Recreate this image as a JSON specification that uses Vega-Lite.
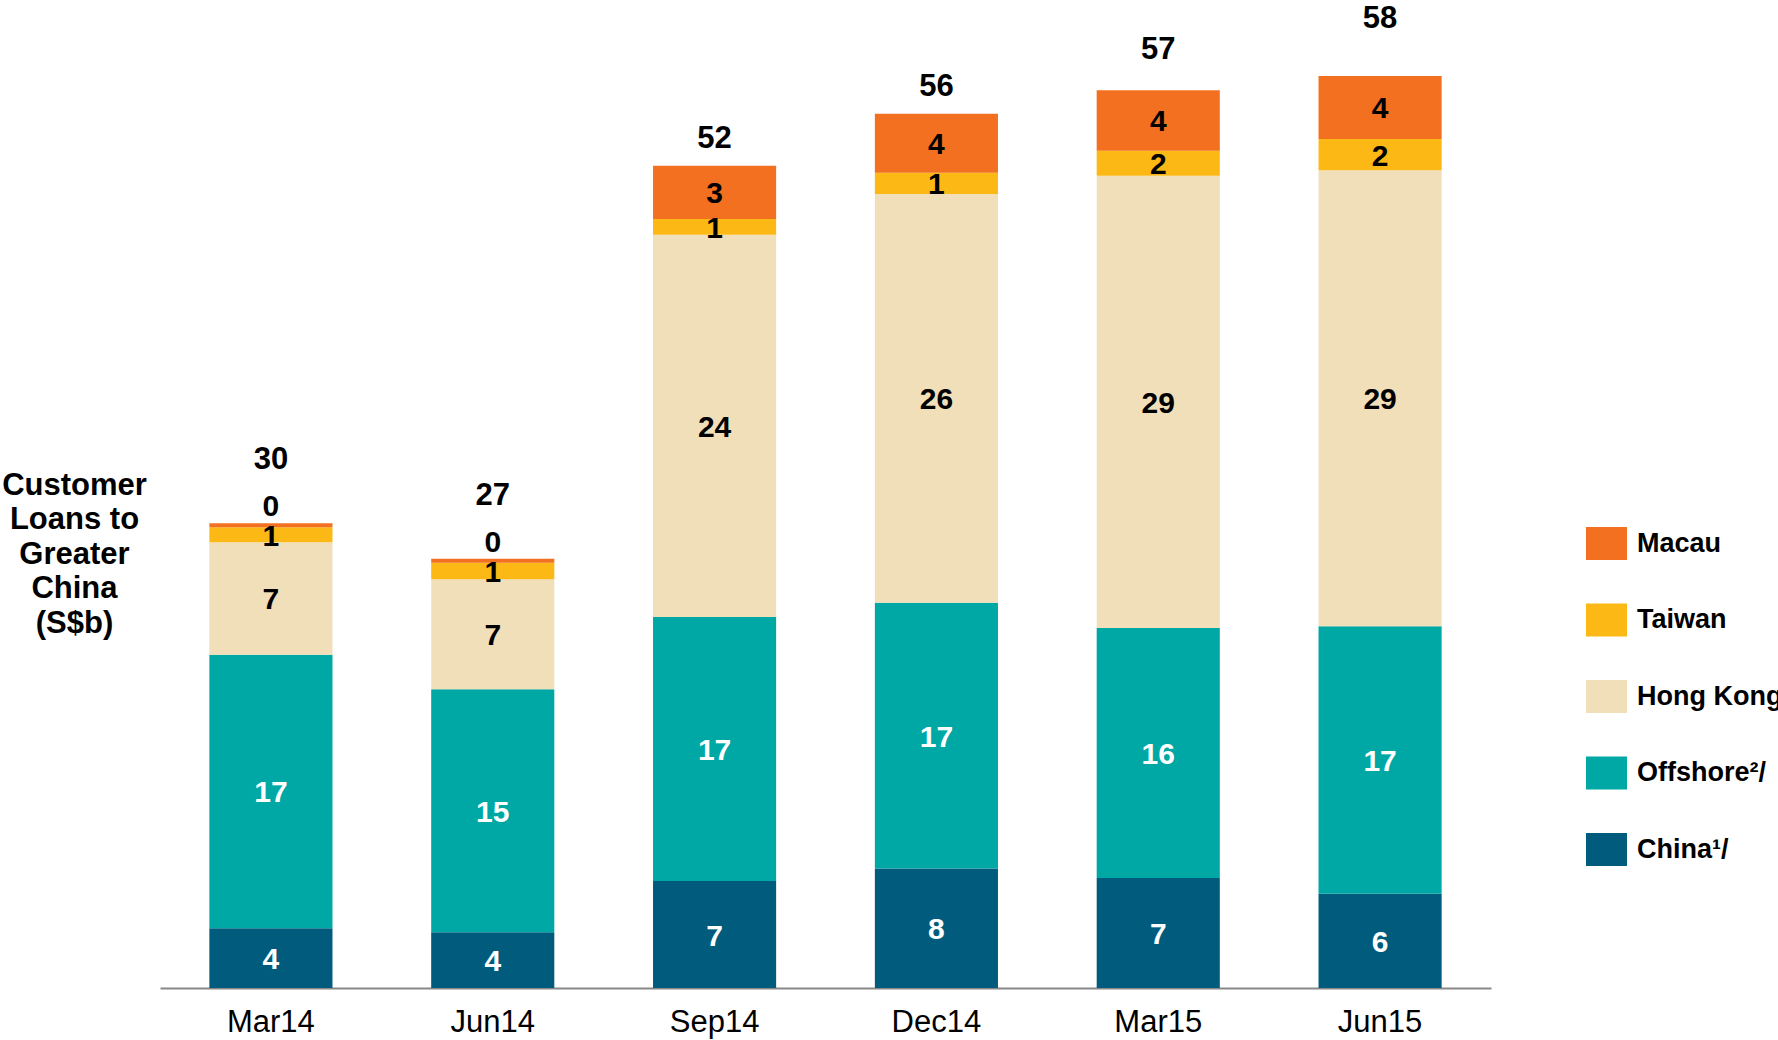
{
  "$schema": "https://vega.github.io/schema/vega-lite/v6.json",
  "width": 1331,
  "height": 912,
  "autosize": {"type": "none"},
  "padding": {"left": 160, "top": 76, "right": 287, "bottom": 52},
  "background": "white",
  "config": {"view": {"stroke": null}, "font": "Liberation Sans"},
  "data": {
    "values": [
      {"quarter": "Mar14", "series": "China¹/", "value": 3.8},
      {"quarter": "Mar14", "series": "Offshore²/", "value": 17.4},
      {"quarter": "Mar14", "series": "Hong Kong", "value": 7.15},
      {"quarter": "Mar14", "series": "Taiwan", "value": 0.95},
      {"quarter": "Mar14", "series": "Macau", "value": 0.25},
      {"quarter": "Jun14", "series": "China¹/", "value": 3.55},
      {"quarter": "Jun14", "series": "Offshore²/", "value": 15.45},
      {"quarter": "Jun14", "series": "Hong Kong", "value": 7.0},
      {"quarter": "Jun14", "series": "Taiwan", "value": 1.05},
      {"quarter": "Jun14", "series": "Macau", "value": 0.25},
      {"quarter": "Sep14", "series": "China¹/", "value": 6.8},
      {"quarter": "Sep14", "series": "Offshore²/", "value": 16.8},
      {"quarter": "Sep14", "series": "Hong Kong", "value": 24.3},
      {"quarter": "Sep14", "series": "Taiwan", "value": 1.0},
      {"quarter": "Sep14", "series": "Macau", "value": 3.4},
      {"quarter": "Dec14", "series": "China¹/", "value": 7.6},
      {"quarter": "Dec14", "series": "Offshore²/", "value": 16.9},
      {"quarter": "Dec14", "series": "Hong Kong", "value": 26.0},
      {"quarter": "Dec14", "series": "Taiwan", "value": 1.35},
      {"quarter": "Dec14", "series": "Macau", "value": 3.75},
      {"quarter": "Mar15", "series": "China¹/", "value": 7.0},
      {"quarter": "Mar15", "series": "Offshore²/", "value": 15.9},
      {"quarter": "Mar15", "series": "Hong Kong", "value": 28.75},
      {"quarter": "Mar15", "series": "Taiwan", "value": 1.6},
      {"quarter": "Mar15", "series": "Macau", "value": 3.85},
      {"quarter": "Jun15", "series": "China¹/", "value": 6.0},
      {"quarter": "Jun15", "series": "Offshore²/", "value": 17.0},
      {"quarter": "Jun15", "series": "Hong Kong", "value": 29.0},
      {"quarter": "Jun15", "series": "Taiwan", "value": 2.0},
      {"quarter": "Jun15", "series": "Macau", "value": 4.0}
    ]
  },
  "transform": [
    {"stack": "value", "groupby": ["quarter"], "as": ["y0", "y1"]}
  ],
  "encoding": {
    "x": {
      "field": "quarter",
      "type": "nominal",
      "sort": ["Mar14", "Jun14", "Sep14", "Dec14", "Mar15", "Jun15"],
      "scale": {"paddingInner": 0.445, "paddingOuter": 0.2225},
      "axis": {
        "title": null,
        "labelAngle": 0,
        "labelFontSize": 31,
        "labelColor": "black",
        "labelFont": "Liberation Sans",
        "labelPadding": 19.5,
        "ticks": false,
        "grid": false,
        "domainColor": "#888888",
        "domainWidth": 2
      }
    }
  },
  "layer": [
    {
      "mark": {"type": "bar"},
      "encoding": {
        "y": {
          "field": "y0",
          "type": "quantitative",
          "scale": {"domain": [0, 58], "nice": false},
          "axis": {
            "title": ["Customer", "Loans to", "Greater", "China", "(S$b)"],
            "titleAngle": 0,
            "titleAlign": "center",
            "titleBaseline": "alphabetic",
            "titleX": -86,
            "titleY": 418,
            "titleFont": "Liberation Sans",
            "titleFontSize": 31,
            "titleFontWeight": "bold",
            "titleColor": "black",
            "titleLineHeight": 34.6,
            "labels": false,
            "ticks": false,
            "domain": false,
            "grid": false
          }
        },
        "y2": {"field": "y1"},
        "color": {
          "field": "series",
          "type": "nominal",
          "scale": {
            "domain": ["Macau", "Taiwan", "Hong Kong", "Offshore²/", "China¹/"],
            "range": ["#F37021", "#FCB814", "#F0DFB9", "#00A8A5", "#015B7C"]
          },
          "legend": {
            "title": null,
            "orient": "none",
            "legendX": 1426,
            "legendY": 447,
            "padding": 0,
            "symbolType": "M-1,-0.805H1V0.805H-1Z",
            "symbolSize": 1681,
            "symbolStrokeWidth": 0,
            "symbolOpacity": 1,
            "labelFont": "Liberation Sans",
            "labelFontSize": 27,
            "labelFontWeight": "bold",
            "labelColor": "black",
            "labelOffset": 10,
            "labelLimit": 600,
            "rowPadding": 38.5
          }
        }
      }
    },
    {
      "transform": [
        {"filter": "datum.value >= 0.5"},
        {"fold": ["y0", "y1"], "as": ["edge", "pos"]},
        {"aggregate": [{"op": "mean", "field": "pos", "as": "mid"}], "groupby": ["quarter", "series", "value"]}
      ],
      "mark": {"type": "text", "fontSize": 30, "fontWeight": "bold", "font": "Liberation Sans", "baseline": "middle", "dy": 2},
      "encoding": {
        "y": {"field": "mid", "type": "quantitative"},
        "text": {"field": "value", "type": "quantitative", "format": ".0f"},
        "color": {
          "condition": {"test": "datum.series == 'China¹/' || datum.series == 'Offshore²/'", "value": "white"},
          "value": "black"
        }
      }
    },
    {
      "transform": [{"filter": "datum.value < 0.5"}],
      "mark": {"type": "text", "fontSize": 30, "fontWeight": "bold", "font": "Liberation Sans", "baseline": "middle", "dy": -16, "color": "black"},
      "encoding": {
        "y": {"field": "y1", "type": "quantitative"},
        "text": {"field": "value", "type": "quantitative", "format": ".0f"}
      }
    },
    {
      "transform": [
        {"aggregate": [{"op": "sum", "field": "value", "as": "total"}], "groupby": ["quarter"]},
        {"filter": {"field": "quarter", "oneOf": ["Mar14", "Jun14"]}}
      ],
      "mark": {"type": "text", "fontSize": 31, "fontWeight": "bold", "font": "Liberation Sans", "baseline": "middle", "dy": -63, "color": "black"},
      "encoding": {
        "y": {"field": "total", "type": "quantitative"},
        "text": {"field": "total", "type": "quantitative", "format": ".0f"}
      }
    },
    {
      "transform": [
        {"aggregate": [{"op": "sum", "field": "value", "as": "total"}], "groupby": ["quarter"]},
        {"filter": {"field": "quarter", "oneOf": ["Sep14", "Dec14"]}}
      ],
      "mark": {"type": "text", "fontSize": 31, "fontWeight": "bold", "font": "Liberation Sans", "baseline": "middle", "dy": -27, "color": "black"},
      "encoding": {
        "y": {"field": "total", "type": "quantitative"},
        "text": {"field": "total", "type": "quantitative", "format": ".0f"}
      }
    },
    {
      "transform": [
        {"aggregate": [{"op": "sum", "field": "value", "as": "total"}], "groupby": ["quarter"]},
        {"filter": {"field": "quarter", "oneOf": ["Mar15"]}}
      ],
      "mark": {"type": "text", "fontSize": 31, "fontWeight": "bold", "font": "Liberation Sans", "baseline": "middle", "dy": -40, "color": "black"},
      "encoding": {
        "y": {"field": "total", "type": "quantitative"},
        "text": {"field": "total", "type": "quantitative", "format": ".0f"}
      }
    },
    {
      "transform": [
        {"aggregate": [{"op": "sum", "field": "value", "as": "total"}], "groupby": ["quarter"]},
        {"filter": {"field": "quarter", "oneOf": ["Jun15"]}}
      ],
      "mark": {"type": "text", "fontSize": 31, "fontWeight": "bold", "font": "Liberation Sans", "baseline": "middle", "dy": -57.5, "color": "black"},
      "encoding": {
        "y": {"field": "total", "type": "quantitative"},
        "text": {"field": "total", "type": "quantitative", "format": ".0f"}
      }
    }
  ]
}
